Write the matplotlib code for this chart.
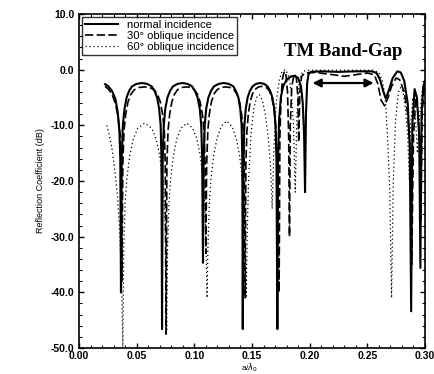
import matplotlib
matplotlib.use("Agg")
import matplotlib.pyplot as plt
from matplotlib.ticker import MultipleLocator, FormatStrFormatter

plt.rcParams['font.family'] = ['Liberation Sans', 'DejaVu Sans']

# normal incidence (solid)
x_normal = [0.0226, 0.0255, 0.0285, 0.0315, 0.0335, 0.0350, 0.0358, 0.0364,
            0.0370, 0.0380, 0.0395, 0.0413, 0.0435, 0.0460, 0.0500, 0.0546, 0.0590, 0.0630,
            0.0655, 0.0677, 0.0695, 0.0708, 0.0715, 0.0720,
            0.0726, 0.0735, 0.0748, 0.0767, 0.0790, 0.0815, 0.0855, 0.0898, 0.0940, 0.0980,
            0.1005, 0.1028, 0.1047, 0.1060, 0.1068, 0.1075,
            0.1081, 0.1090, 0.1103, 0.1122, 0.1145, 0.1170, 0.1212, 0.1255, 0.1298, 0.1338,
            0.1360, 0.1382, 0.1398, 0.1410, 0.1416, 0.1420,
            0.1426, 0.1434, 0.1446, 0.1462, 0.1482, 0.1505, 0.1535, 0.1570, 0.1605, 0.1635,
            0.1657, 0.1677, 0.1693, 0.1704, 0.1712, 0.1720,
            0.1726, 0.1735, 0.1750, 0.1770, 0.1800, 0.1840, 0.1870, 0.1900, 0.1925, 0.1940,
            0.1952, 0.1960,
            0.1968, 0.1978, 0.1990, 0.2010, 0.2100, 0.2250, 0.2400, 0.2540, 0.2580, 0.2610,
            0.2640, 0.2660, 0.2690, 0.2720, 0.2760, 0.2790, 0.2820, 0.2850, 0.2868, 0.2880,
            0.2890, 0.2910, 0.2930, 0.2950, 0.2960, 0.2970, 0.2985, 0.3000]
y_normal = [-2.6, -3.0, -3.8, -5.2, -7.5, -11.0, -16.0, -40.0,
            -16, -10, -7, -5, -3.8, -3.0, -2.55, -2.4, -2.55, -3.0,
            -3.8, -5, -7, -10, -16, -46.6,
            -16, -10, -7, -5, -3.8, -3.0, -2.55, -2.4, -2.55, -3.0,
            -3.8, -5, -7, -10, -16, -34.7,
            -16, -10, -7, -5, -3.8, -3.0, -2.55, -2.4, -2.55, -3.0,
            -3.8, -5, -7, -10, -16, -46.6,
            -16, -10, -7, -5, -3.8, -3.0, -2.55, -2.4, -2.55, -3.0,
            -3.8, -5, -7, -10, -16, -46.6,
            -16, -9, -5, -3, -1.8, -1.2, -1.1, -1.5, -3, -6,
            -12, -22,
            -8, -2.5, -0.8, -0.4, -0.3, -0.4, -0.3, -0.3, -0.6, -1.8,
            -4.0, -5.2, -3.5, -1.5, -0.3, -0.5, -2.0, -6.0, -14, -43.4,
            -10, -3.5, -5, -12, -35.6, -8, -3, -2]

# 30 degree oblique incidence (dashed)
x_30 = [0.0226, 0.0255, 0.0285, 0.0315, 0.0340, 0.0358, 0.0366, 0.0372,
        0.0380, 0.0390, 0.0405, 0.0425, 0.0450, 0.0480, 0.0520, 0.0565, 0.0610, 0.0650,
        0.0680, 0.0705, 0.0725, 0.0740, 0.0748, 0.0755,
        0.0762, 0.0772, 0.0786, 0.0805, 0.0828, 0.0855, 0.0890, 0.0928, 0.0965, 0.1000,
        0.1027, 0.1050, 0.1070, 0.1085, 0.1093, 0.1100,
        0.1107, 0.1117, 0.1130, 0.1148, 0.1170, 0.1197, 0.1232, 0.1270, 0.1308, 0.1343,
        0.1370, 0.1392, 0.1410, 0.1425, 0.1433, 0.1440,
        0.1447, 0.1456, 0.1468, 0.1484, 0.1503, 0.1525, 0.1555, 0.1590, 0.1625, 0.1650,
        0.1672, 0.1690, 0.1705, 0.1720, 0.1735,
        0.1742, 0.1752, 0.1765, 0.1780, 0.1795, 0.1808, 0.1818, 0.1825,
        0.1832, 0.1845, 0.1865, 0.1885, 0.1898, 0.1905,
        0.1915, 0.1930, 0.1960, 0.2050, 0.2200, 0.2300, 0.2400, 0.2500, 0.2560, 0.2590,
        0.2620, 0.2650, 0.2680, 0.2710, 0.2750, 0.2780, 0.2820, 0.2850, 0.2870, 0.2885,
        0.2900, 0.2920, 0.2940, 0.2955, 0.2965, 0.2975, 0.2990, 0.3000]
y_30 = [-3.0, -3.5, -4.4, -6.0, -8.5, -12, -18, -38,
        -17, -11, -8, -5.8, -4.4, -3.6, -3.2, -3.1, -3.2, -3.6,
        -4.4, -5.8, -8, -11, -17, -47.5,
        -17, -11, -8, -5.8, -4.4, -3.6, -3.2, -3.1, -3.2, -3.6,
        -4.4, -5.8, -8, -11, -17, -33,
        -17, -11, -8, -5.8, -4.4, -3.6, -3.2, -3.1, -3.2, -3.6,
        -4.4, -5.8, -8, -11, -17, -41,
        -17, -11, -8, -5.8, -4.4, -3.6, -3.1, -3.0, -3.2, -3.8,
        -5, -7, -10, -16, -40,
        -12, -5, -1.5, -0.3, -1.0, -4, -12, -30,
        -10, -3, -0.8, -1.5, -5, -13,
        -4, -1.2, -0.6, -0.5, -0.9, -1.2, -0.9, -0.6, -0.9, -2.5,
        -5.5, -6.5, -5.0, -3.0, -1.5, -1.8, -4, -8, -14, -35,
        -12, -5, -8, -14, -27, -8, -3.5, -3]

# 60 degree oblique incidence (dotted)
x_60 = [0.0240, 0.0260, 0.0285, 0.0310, 0.0335, 0.0355, 0.0370, 0.0380,
        0.0388, 0.0400, 0.0415, 0.0440, 0.0470, 0.0510, 0.0570, 0.0630, 0.0670, 0.0700,
        0.0725, 0.0740, 0.0752, 0.0760,
        0.0768, 0.0780, 0.0795, 0.0818, 0.0847, 0.0885, 0.0935, 0.0985, 0.1023, 0.1052,
        0.1075, 0.1090, 0.1102, 0.1110,
        0.1118, 0.1130, 0.1145, 0.1167, 0.1195, 0.1232, 0.1280, 0.1328, 0.1365, 0.1393,
        0.1415, 0.1430, 0.1442, 0.1450,
        0.1458, 0.1470, 0.1490, 0.1515, 0.1540, 0.1565, 0.1590, 0.1615, 0.1640, 0.1660,
        0.1675,
        0.1690, 0.1710, 0.1735, 0.1760, 0.1790, 0.1815, 0.1840, 0.1860, 0.1875,
        0.1890, 0.1910, 0.1940, 0.2000, 0.2300, 0.2550, 0.2600, 0.2630, 0.2655, 0.2675,
        0.2695, 0.2710, 0.2725, 0.2745, 0.2770, 0.2790, 0.2810, 0.2830, 0.2850, 0.2865,
        0.2875, 0.2895, 0.2915, 0.2935, 0.2950, 0.2975, 0.3000]
y_60 = [-10, -11.5, -14, -18, -23, -30, -38, -50,
        -32, -24, -19.5, -15.5, -12.5, -10.5, -9.6, -10.5, -12.5, -15.5,
        -19.5, -24, -32, -47,
        -32, -24, -19.5, -15.5, -12.5, -10.5, -9.6, -10.5, -12.5, -15.5,
        -19.5, -24, -32, -41,
        -32, -24, -19.5, -15.5, -12.5, -10.2, -9.2, -10.2, -12.5, -15.5,
        -19.5, -24, -32, -41,
        -30, -20, -12, -7, -5, -4.5, -5.5, -8, -12, -17,
        -25,
        -14, -6, -2, -0.3, 0.0, -1, -4, -10, -22,
        -8, -2, -0.3, -0.1, -0.1, -0.1, -0.5, -2.0, -5, -12,
        -22, -41, -20, -9, -4, -3.2, -4, -7, -12, -20,
        -10, -5, -8, -15, -9, -4, -3]

fig = plt.figure(figsize=(4.35, 3.74), dpi=100)
ax = fig.add_axes([0.1816, 0.0695, 0.7954, 0.8931])

ax.plot(x_normal, y_normal, color='black', lw=1.5, ls='-', label='normal incidence')
ax.plot(x_30, y_30, color='black', lw=1.2, ls=(0, (5, 2)), label='30° oblique incidence')
ax.plot(x_60, y_60, color='black', lw=0.9, ls=(0, (1, 2.2)), label='60° oblique incidence')

ax.set_xlim(0.0, 0.30)
ax.set_ylim(-50, 10)
ax.xaxis.set_major_locator(MultipleLocator(0.05))
ax.xaxis.set_minor_locator(MultipleLocator(0.01))
ax.yaxis.set_major_locator(MultipleLocator(10))
ax.yaxis.set_minor_locator(MultipleLocator(2))
ax.xaxis.set_major_formatter(FormatStrFormatter('%.2f'))
ax.yaxis.set_major_formatter(FormatStrFormatter('%.1f'))
ax.tick_params(which='both', direction='in', top=True, right=True, labelsize=7.5)
ax.tick_params(axis='x', which='major', pad=2)
ax.tick_params(which='major', length=3.5, width=1)
ax.tick_params(which='minor', length=2, width=0.8)
for lab in ax.get_xticklabels() + ax.get_yticklabels():
    lab.set_fontweight('bold')
for sp in ax.spines.values():
    sp.set_linewidth(1.2)

ax.set_ylabel('Reflection Coefficient (dB)', fontsize=6.5, labelpad=4)
# x label sits just under the tick labels
fig.text(250 / 435, 1 - 368 / 374, r'a/$\lambda_0$', fontsize=6,
         ha='center', va='center')

leg = ax.legend(loc='upper left', fontsize=8.1, frameon=True, fancybox=False,
                edgecolor='black', handlelength=3.0, borderaxespad=0.25,
                borderpad=0.25, labelspacing=0.12, handletextpad=0.8)
leg.get_frame().set_linewidth(1.0)

ax.text(0.229, 3.3, 'TM Band-Gap', family=['Liberation Serif', 'DejaVu Serif'],
        fontsize=13.5, fontweight='bold', ha='center', va='center')
ax.annotate('', xy=(0.2025, -2.4), xytext=(0.2555, -2.4),
            arrowprops=dict(arrowstyle='<|-|>', color='black', lw=1.6,
                            mutation_scale=12, shrinkA=0, shrinkB=0))

fig.savefig('out.png', dpi=100)
